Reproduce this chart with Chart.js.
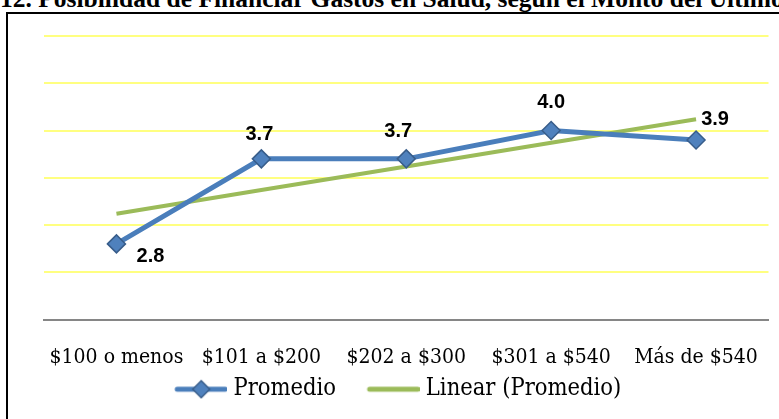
<!DOCTYPE html>
<html>
<head>
<meta charset="utf-8">
<script src="https://cdn.jsdelivr.net/npm/chart.js@4"></script>
<style>
  html, body { margin: 0; padding: 0; background: #fff; width: 779px; height: 419px; overflow: hidden; }
  #title { position: absolute; left: 0; top: -14px; white-space: nowrap; font: bold 25.5px "Liberation Serif", serif; line-height: 25px; color: #000; }
  #box { position: absolute; left: 6px; top: 12px; width: 800px; height: 420px; border: 2px solid #000; box-sizing: border-box; }
  #wrap { position: absolute; left: 0; top: 0; width: 779px; height: 419px; }
</style>
</head>
<body>
<div id="title">12. Posibilidad de Financiar Gastos en Salud, según el Monto del Último Ingreso</div>
<div id="box"></div>
<div id="wrap"><canvas id="chart" width="779" height="419"></canvas></div>
<script>
// Datos
const categorias = ['$100 o menos', '$101 a $200', '$202 a $300', '$301 a $540', 'Más de $540'];
const promedio = [2.8, 3.7, 3.7, 4.0, 3.9];
const tendencia = [3.12, 3.37, 3.62, 3.87, 4.12];
const serieNombres = ['Promedio', 'Linear (Promedio)'];

const azul = '#4a7ebb';
const verde = '#9bbb59';

// desplazamiento de cada etiqueta respecto a su punto (px)
const labelOffsets = [[34, 13], [-2, -24], [-8, -27], [0, -28], [19, -20]];

// icono de leyenda: margen transparente a la izquierda para separar los items
function legendIcon(color, diamond) {
    const c = document.createElement('canvas');
    c.width = 81; c.height = 20;
    const g = c.getContext('2d');
    g.strokeStyle = color;
    g.lineWidth = 5;
    g.lineCap = 'round';
    g.beginPath();
    g.moveTo(31, 10); g.lineTo(79, 10);
    g.stroke();
    if (diamond) {
        g.fillStyle = '#4f81bd';
        g.strokeStyle = '#385d8a';
        g.lineWidth = 1.5;
        g.beginPath();
        g.moveTo(55, 1.5); g.lineTo(63.5, 10); g.lineTo(55, 18.5); g.lineTo(46.5, 10);
        g.closePath();
        g.fill(); g.stroke();
    }
    return c;
}

const dataLabels = {
    id: 'dataLabels',
    afterDatasetsDraw(chart) {
        const ctx = chart.ctx;
        const meta = chart.getDatasetMeta(0);
        ctx.save();
        ctx.font = 'bold 20px "Liberation Sans", Arial, sans-serif';
        ctx.fillStyle = '#000';
        ctx.textAlign = 'center';
        ctx.textBaseline = 'middle';
        meta.data.forEach((pt, i) => {
            const off = labelOffsets[i];
            ctx.fillText(promedio[i].toFixed(1), pt.x + off[0], pt.y + off[1]);
        });
        ctx.restore();
    }
};

const ctx = document.getElementById('chart').getContext('2d');
new Chart(ctx, {
    type: 'line',
    data: {
        labels: categorias,
        datasets: [{
            label: serieNombres[0],
            data: promedio,
            borderColor: azul,
            borderWidth: 5,
            pointStyle: 'rectRot',
            pointRadius: 9,
            pointBackgroundColor: '#4f81bd',
            pointBorderColor: '#385d8a',
            pointBorderWidth: 1.5,
            tension: 0,
            order: 1
        }, {
            label: serieNombres[1],
            data: tendencia,
            borderColor: verde,
            borderWidth: 4,
            pointRadius: 0,
            tension: 0,
            order: 2
        }]
    },
    options: {
        responsive: false,
        animation: false,
        layout: { padding: { left: 0, right: 6, top: 36, bottom: 8 } },
        scales: {
            x: {
                offset: true,
                grid: { display: false, drawTicks: false },
                border: { color: '#868686', width: 2 },
                ticks: {
                    color: '#000',
                    padding: 28,
                    maxRotation: 0,
                    font: { family: '"DejaVu Serif Condensed", "DejaVu Serif", serif', size: 21, lineHeight: 1 }
                },
                afterFit: s => { s.height = 50; s.paddingLeft = 0; s.paddingRight = 0; }
            },
            y: {
                min: 2,
                max: 5,
                ticks: { display: false, stepSize: 0.5 },
                border: { display: false },
                grid: {
                    drawTicks: false,
                    color: c => c.tick.value === 2 ? 'rgba(0,0,0,0)' : '#ffff80',
                    lineWidth: 2
                },
                afterFit: s => { s.width = 44; }
            }
        },
        plugins: {
            legend: {
                position: 'bottom',
                labels: {
                    color: '#000',
                    usePointStyle: true,
                    pointStyleWidth: 70,
                    padding: 8,
                    font: { family: '"DejaVu Serif Condensed", "DejaVu Serif", serif', size: 23.5 },
                    generateLabels: chart => chart.data.datasets.map((ds, i) => ({
                        text: ds.label,
                        pointStyle: legendIcon(ds.borderColor, i === 0),
                        fillStyle: ds.borderColor,
                        strokeStyle: ds.borderColor,
                        lineWidth: 0,
                        datasetIndex: i
                    }))
                }
            },
            tooltip: { enabled: false }
        }
    },
    plugins: [dataLabels]
});
</script>
</body>
</html>
